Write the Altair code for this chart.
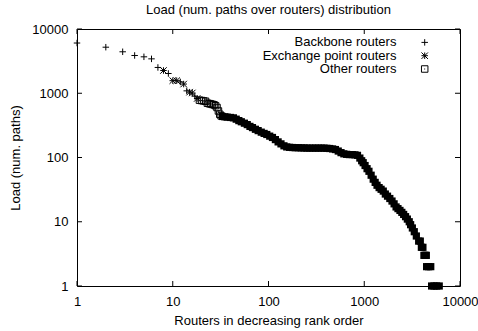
import altair as alt
import pandas as pd

TITLE = "Load (num. paths over routers) distribution"
X_TITLE = "Routers in decreasing rank order"
Y_TITLE = "Load (num. paths)"
series_names = ["Backbone routers", "Exchange point routers", "Other routers"]
tick_values = [1, 10, 100, 1000, 10000]

backbone_rank = [1, 2, 3, 4, 5, 6, 7, 9, 12, 14, 17]
backbone_load = [6050, 5210, 4420, 3870, 3690, 3430, 2520, 2030, 1500, 1090, 900]

exchange_rank = [8, 10, 11, 13, 15, 16, 18]
exchange_load = [2260, 1570, 1570, 1390, 1040, 1010, 830]

other_rank = [19, 20, 21, 22, 23, 24, 25, 26, 27, 28, 29, 30, 31, 32,
              33, 35, 37, 40, 43, 46, 49, 52, 56, 60, 64, 68, 73, 78, 84, 90, 96,
              103, 110, 118, 126, 135, 145, 155, 166, 178, 190, 205, 220, 235,
              252, 270, 290, 310, 332, 355, 380, 407, 436, 467, 500, 535, 572,
              612, 655, 700, 750, 800, 850, 900, 940, 975, 1020, 1070, 1120,
              1180, 1240, 1300, 1360, 1430, 1500, 1580, 1660, 1750, 1850, 1950,
              2050, 2150, 2250, 2360, 2470, 2580, 2700, 2820, 2950, 3050, 3180,
              3330, 3500, 3700, 3850, 3950, 4100, 4200, 4330, 4450, 4480, 4700,
              4950, 5050, 5350, 5700, 6070]
other_load = [780, 770, 760, 750, 700, 690, 680, 670, 660, 640, 600, 530, 470, 445,
              435, 430, 425, 420, 414, 395, 375, 360, 342, 325, 305, 292, 275, 262, 248, 237, 228,
              215, 205, 190, 175, 163, 152, 146, 144, 143, 142, 142, 141, 141,
              140, 140, 140, 140, 140, 140, 140, 139, 138, 136, 133, 126, 119,
              114, 112, 111, 111, 110, 108, 98, 89, 83, 75, 67, 61,
              53, 46, 41, 37, 34, 32, 30, 27, 25, 23, 21,
              19, 17, 16, 15, 14, 13, 12, 11, 10, 9, 8,
              7, 6, 5, 5, 4, 4, 3, 3, 3, 2, 2,
              2, 1, 1, 1, 1]

W, H = 383, 257
FONT = "Liberation Sans"
FS = 13

xs = alt.Scale(type="log", domain=[1, 10000], nice=False)
ys = alt.Scale(type="log", domain=[1, 10000], nice=False)

x_axis = alt.Axis(values=tick_values, format="d", title=X_TITLE, ticks=False, tickSize=0,
                  domain=False, grid=False, labelFont=FONT, labelFontSize=FS,
                  labelColor="black", labelPadding=9, labelFlush=False, labelOverlap=False,
                  titleFont=FONT, titleFontSize=FS, titleFontWeight="normal",
                  titleColor="black", titleX=W / 2, titleY=34, titleBaseline="middle",
                  titleAlign="center")
y_axis = alt.Axis(values=tick_values, format="d", title=Y_TITLE, ticks=False, tickSize=0,
                  domain=False, grid=False, labelFont=FONT, labelFontSize=FS,
                  labelColor="black", labelPadding=9, labelFlush=False, labelOverlap=False,
                  titleFont=FONT, titleFontSize=FS, titleFontWeight="normal",
                  titleColor="black", titleX=-62, titleY=H / 2, titleAngle=270,
                  titleBaseline="middle", titleAlign="center")

PLUS = "M-1,0H1M0,-1V1"
STAR = "M-1,0H1M0,-1V1M-1,-1L1,1M-1,1L1,-1"
BOX = "M-1,-1H1V1H-1ZM-0.15,0H0.15"

bb = pd.DataFrame({"rank": backbone_rank, "load": backbone_load})
ex = pd.DataFrame({"rank": exchange_rank, "load": exchange_load})
ot = pd.DataFrame({"rank": other_rank, "load": other_load})
ot_sparse = ot[ot["rank"] < 33]
ot_dense = ot[ot["rank"] >= 33]
ticks_df = pd.DataFrame({"v": tick_values})


def enc(ch):
    return ch.encode(x=alt.X("rank:Q", scale=xs, axis=x_axis),
                     y=alt.Y("load:Q", scale=ys, axis=y_axis))


layers = []
# inward ticks on all four sides
layers.append(alt.Chart(ticks_df).mark_rule(color="black", strokeWidth=1).encode(
    x=alt.X("v:Q", scale=xs, axis=x_axis), y=alt.value(H), y2=alt.value(H - 5)))
layers.append(alt.Chart(ticks_df).mark_rule(color="black", strokeWidth=1).encode(
    x=alt.X("v:Q", scale=xs, axis=x_axis), y=alt.value(0), y2=alt.value(5)))
layers.append(alt.Chart(ticks_df).mark_rule(color="black", strokeWidth=1).encode(
    y=alt.Y("v:Q", scale=ys, axis=y_axis), x=alt.value(0), x2=alt.value(5)))
layers.append(alt.Chart(ticks_df).mark_rule(color="black", strokeWidth=1).encode(
    y=alt.Y("v:Q", scale=ys, axis=y_axis), x=alt.value(W), x2=alt.value(W - 5)))

layers.append(enc(alt.Chart(ot_dense).mark_square(size=52, filled=True, color="black",
                                                   opacity=1, clip=False)))
layers.append(enc(alt.Chart(ot_sparse).mark_point(shape=BOX, size=42, filled=False,
                                                  color="black", strokeWidth=1, opacity=1,
                                                  clip=False)))
layers.append(enc(alt.Chart(ex).mark_point(shape=STAR, size=42, filled=False, color="black",
                                           strokeWidth=1, opacity=1, clip=False)))
layers.append(enc(alt.Chart(bb).mark_point(shape=PLUS, size=42, filled=False, color="black",
                                           strokeWidth=1, opacity=1, clip=False)))

# chart title as a text mark above the frame
title_df = pd.DataFrame({"t": [TITLE]})
layers.append(alt.Chart(title_df).mark_text(align="center", baseline="middle", font=FONT,
                                            fontSize=FS, color="black", clip=False).encode(
    text="t:N", x=alt.value(W / 2), y=alt.value(-19.5)))

# legend (gnuplot style, top right inside the frame)
legend_y = [13.4, 26.7, 40.0]
legend_shapes = [PLUS, STAR, BOX]
for name, ly, shp in zip(series_names, legend_y, legend_shapes):
    one = pd.DataFrame({"label": [name]})
    layers.append(alt.Chart(one).mark_text(align="right", baseline="middle", font=FONT,
                                           fontSize=FS, color="black").encode(
        text="label:N", x=alt.value(319.4), y=alt.value(ly)))
    layers.append(alt.Chart(one).mark_point(shape=shp, size=42, filled=False, color="black",
                                            strokeWidth=1, opacity=1).encode(
        x=alt.value(347.7), y=alt.value(ly)))

chart = alt.layer(*layers).properties(
    width=W, height=H,
    autosize=alt.AutoSizeParams(type="none"),
    padding={"left": 77, "top": 29, "right": 18, "bottom": 45},
    background="white",
).configure_view(stroke="black", strokeWidth=1)

chart.save("out.html", embed_options={"renderer": "svg", "actions": False})
